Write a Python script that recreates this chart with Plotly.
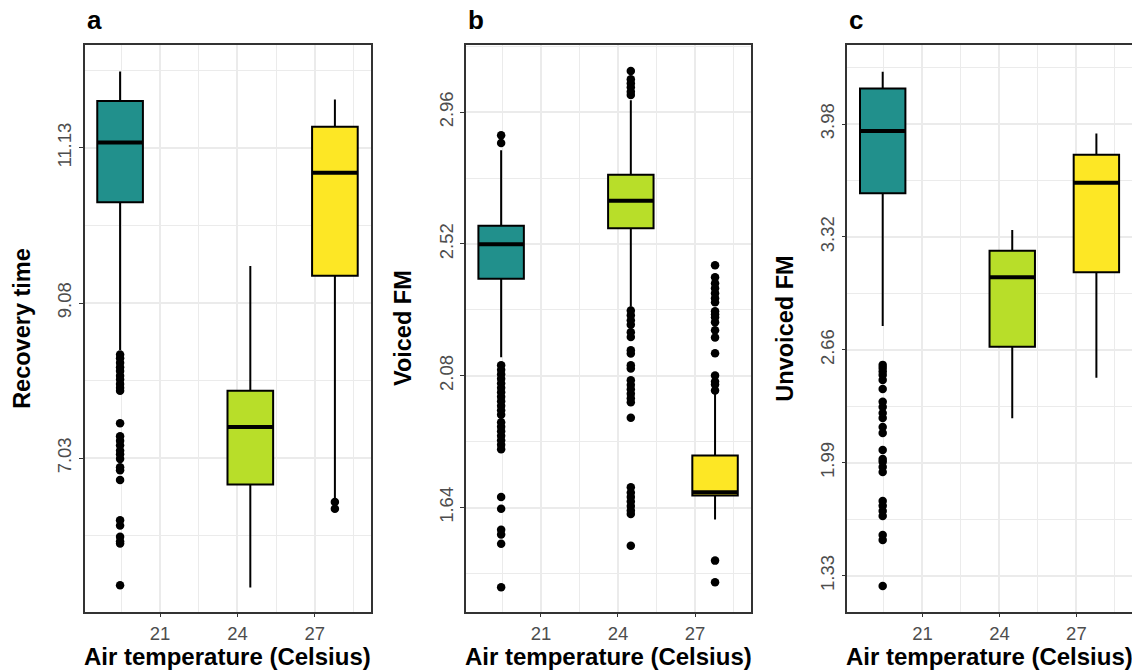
import plotly.graph_objects as go

# ---------------- data ----------------
temps = [19.45, 24.5, 27.78]          # group positions (Celsius)
box_colors = ["#21908C", "#B8DE29", "#FDE725"]
box_width = 1.77

x_tick_vals = [21, 24, 27]
x_minor_vals = [19.5, 22.5, 25.5, 28.5]
x_range = [18.07, 29.18]

# panel a: Recovery time
a_lower = [8.46, 5.32, 6.50]
a_q1 = [10.41, 6.68, 9.44]
a_median = [11.20, 7.44, 10.80]
a_q3 = [11.75, 7.92, 11.41]
a_upper = [12.14, 9.57, 11.77]
a_out = [
    [8.40, 8.35, 8.29, 8.23, 8.18, 8.12, 8.07, 8.01, 7.96, 7.92, 7.49, 7.32,
     7.26, 7.20, 7.13, 7.08, 7.02, 6.91, 6.87, 6.74, 6.21, 6.14, 5.99, 5.93,
     5.90, 5.35],
    [],
    [6.45, 6.36],
]
a_tick_vals = [7.03, 9.08, 11.13]
a_tick_text = ["7.03", "9.08", "11.13"]
a_range = [5.00, 12.49]

# panel b: Voiced FM
b_lower = [2.142, 2.310, 1.600]
b_q1 = [2.404, 2.572, 1.680]
b_median = [2.519, 2.664, 1.691]
b_q3 = [2.581, 2.751, 1.814]
b_upper = [2.833, 3.000, 2.020]
b_out = [
    [2.883, 2.857, 2.115, 2.100, 2.085, 2.070, 2.055, 2.040, 2.025, 2.010,
     1.995, 1.980, 1.965, 1.950, 1.925, 1.910, 1.895, 1.880, 1.865, 1.850,
     1.835, 1.675, 1.636, 1.566, 1.550, 1.519, 1.374],
    [3.097, 3.070, 3.056, 3.043, 3.028, 3.017, 2.298, 2.282, 2.265, 2.250,
     2.225, 2.209, 2.165, 2.154, 2.115, 2.104, 2.065, 2.050, 2.035, 2.020,
     2.005, 1.992, 1.940, 1.708, 1.690, 1.675, 1.660, 1.645, 1.630, 1.619,
     1.513],
    [2.449, 2.409, 2.389, 2.372, 2.355, 2.339, 2.325, 2.295, 2.285, 2.275,
     2.259, 2.232, 2.208, 2.155, 2.081, 2.061, 2.051, 2.031, 1.463, 1.391],
]
b_tick_vals = [1.64, 2.08, 2.52, 2.96]
b_tick_text = ["1.64", "2.08", "2.52", "2.96"]
b_range = [1.2925, 3.184]

# panel c: Unvoiced FM
c_lower = [2.795, 2.254, 2.492]
c_q1 = [3.574, 2.674, 3.110]
c_median = [3.939, 3.081, 3.636]
c_q3 = [4.189, 3.237, 3.800]
c_upper = [4.287, 3.358, 3.925]
c_out = [
    [2.567, 2.548, 2.528, 2.508, 2.478, 2.426, 2.350, 2.320, 2.285, 2.256,
     2.203, 2.168, 2.068, 2.015, 1.998, 1.968, 1.939, 1.769, 1.740, 1.710,
     1.681, 1.569, 1.540, 1.270],
    [],
    [],
]
c_tick_vals = [1.33, 1.9925, 2.655, 3.3175, 3.98]
c_tick_text = ["1.33", "1.99", "2.66", "3.32", "3.98"]
c_range = [1.119, 4.4436]

panel_letters = ["a", "b", "c"]
y_titles = ["Recovery time", "Voiced FM", "Unvoiced FM"]
x_title = "Air temperature (Celsius)"

# ---------------- layout geometry ----------------
OFF = 8                      # page body margin of the html page
W, H = 1140 - OFF, 672 - OFF
def px(x):
    return (x - OFF) / W
def py(y):
    return 1 - (y - OFF) / H

x_domains_px = [(84.5, 371.0), (465.7, 751.0), (847.3, 1132.3)]
y_dom = [py(611.7), py(45.0)]

FONT = "Liberation Sans, Arial, sans-serif"
GRID = "#EBEBEB"
BORDER = "#333333"
TICKCOL = "#4D4D4D"

panels = [
    (a_lower, a_q1, a_median, a_q3, a_upper, a_out, a_tick_vals, a_tick_text, a_range),
    (b_lower, b_q1, b_median, b_q3, b_upper, b_out, b_tick_vals, b_tick_text, b_range),
    (c_lower, c_q1, c_median, c_q3, c_upper, c_out, c_tick_vals, c_tick_text, c_range),
]


def minor_from(ticks, rng):
    step = ticks[1] - ticks[0]
    vals = [ticks[0] - step / 2] + [t + step / 2 for t in ticks]
    return [v for v in vals if rng[0] <= v <= rng[1]]


fig = go.Figure()
annotations = []
layout_axes = {}

for i, (lo, q1, md, q3, up, outs, tv, tt, yr) in enumerate(panels):
    n = "" if i == 0 else str(i + 1)
    xref, yref = "x" + n, "y" + n
    for j, xpos in enumerate(temps):
        fig.add_trace(go.Box(
            x=[xpos], q1=[q1[j]], median=[md[j]], q3=[q3[j]],
            lowerfence=[lo[j]], upperfence=[up[j]],
            width=box_width, whiskerwidth=0, boxpoints=False,
            fillcolor=box_colors[j], line=dict(color="black", width=2),
            orientation="v", xaxis=xref, yaxis=yref, showlegend=False,
            hoverinfo="skip",
        ))
    # thicker median bars
    mx, my = [], []
    for j, xpos in enumerate(temps):
        mx += [xpos - box_width / 2, xpos + box_width / 2, None]
        my += [md[j], md[j], None]
    fig.add_trace(go.Scatter(x=mx, y=my, mode="lines",
                             line=dict(color="black", width=4),
                             xaxis=xref, yaxis=yref, showlegend=False,
                             hoverinfo="skip"))
    # outliers
    ox, oy = [], []
    for j, xpos in enumerate(temps):
        ox += [xpos] * len(outs[j])
        oy += outs[j]
    fig.add_trace(go.Scatter(x=ox, y=oy, mode="markers",
                             marker=dict(color="black", size=8.5),
                             xaxis=xref, yaxis=yref, showlegend=False,
                             hoverinfo="skip"))

    x0, x1 = x_domains_px[i]
    layout_axes["xaxis" + n] = dict(
        domain=[px(x0), px(x1)], range=x_range, anchor=yref,
        tickvals=x_tick_vals, ticktext=[str(v) for v in x_tick_vals],
        ticks="outside", ticklen=4, tickwidth=1.2, tickcolor=BORDER,
        tickfont=dict(family=FONT, size=18.5, color=TICKCOL),
        showgrid=True, gridcolor=GRID, gridwidth=2,
        minor=dict(tickvals=x_minor_vals, showgrid=True, gridcolor=GRID,
                   gridwidth=1.1, ticks=""),
        showline=True, linecolor=BORDER, linewidth=1.5, mirror=True,
        zeroline=False, fixedrange=True,
    )
    layout_axes["yaxis" + n] = dict(
        domain=y_dom, range=yr, anchor=xref,
        tickvals=tv, ticktext=tt, tickangle=-90,
        ticks="outside", ticklen=4, tickwidth=1.2, tickcolor=BORDER,
        tickfont=dict(family=FONT, size=18.5, color=TICKCOL),
        showgrid=True, gridcolor=GRID, gridwidth=2,
        minor=dict(tickvals=minor_from(tv, yr), showgrid=True, gridcolor=GRID,
                   gridwidth=1.1, ticks=""),
        showline=True, linecolor=BORDER, linewidth=1.5, mirror=True,
        zeroline=False, fixedrange=True,
    )
    # panel letter
    annotations.append(dict(
        text="<b>%s</b>" % panel_letters[i], xref="paper", yref="paper",
        x=px(x0), y=py(20), xanchor="left", yanchor="middle",
        showarrow=False, font=dict(family=FONT, size=26, color="black"),
    ))
    # x title
    annotations.append(dict(
        text="<b>%s</b>" % x_title, xref="paper", yref="paper",
        x=px((x0 + x1) / 2), y=py(656), xanchor="center", yanchor="middle",
        showarrow=False, font=dict(family=FONT, size=24, color="black"),
    ))
    # y title
    annotations.append(dict(
        text="<b>%s</b>" % y_titles[i], xref="paper", yref="paper",
        x=px(x0 - 62), y=(y_dom[0] + y_dom[1]) / 2, xanchor="center",
        yanchor="middle", textangle=-90,
        showarrow=False, font=dict(family=FONT, size=23.5, color="black"),
    ))

fig.update_layout(
    width=W, height=H, margin=dict(l=0, r=0, t=0, b=0),
    paper_bgcolor="white", plot_bgcolor="white",
    boxmode="overlay", showlegend=False,
    annotations=annotations, **layout_axes,
)

fig.write_html("out.html")
